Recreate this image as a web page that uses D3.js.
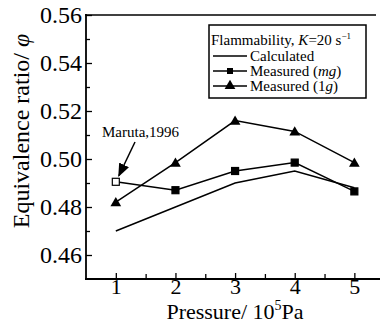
<!DOCTYPE html>
<html>
<head>
<meta charset="utf-8">
<script src="https://cdn.jsdelivr.net/npm/d3@7"></script>
<style>
  body { margin: 0; background: #fff; }
  svg text { font-family: "Liberation Serif", "DejaVu Serif", serif; fill: #000; }
</style>
</head>
<body>
<div id="chart"></div>
<script>
// data
var pressures = [1, 2, 3, 4, 5];
var calculated = [0.470, 0.480, 0.490, 0.495, 0.488];
var measuredMg = [0.4905, 0.487, 0.495, 0.4985, 0.4865];
var measured1g = [0.482, 0.4985, 0.516, 0.5115, 0.4985];
var yTicks = [0.46, 0.48, 0.50, 0.52, 0.54, 0.56];
var xTicks = [1, 2, 3, 4, 5];

var width = 382, height = 325;
var svg = d3.select("#chart").append("svg")
    .attr("width", width)
    .attr("height", height);

var xScale = d3.scaleLinear().domain([0.5, 5.43]).range([86, 380]);
var yScale = d3.scaleLinear().domain([0.45, 0.56]).range([279, 15]);

/* axes */
var yAxis = d3.axisLeft(yScale).tickValues(yTicks).tickSize(-6)
    .tickPadding(4).tickFormat(d3.format(".2f"));
var gy = svg.append("g").attr("transform", "translate(86,0)").call(yAxis);
gy.select(".domain").remove();
gy.selectAll("text").style("font-size", "24px");

var yMinor = d3.axisLeft(yScale).tickValues([0.47, 0.49, 0.51, 0.53, 0.55]).tickSize(-4).tickFormat("");
var gym = svg.append("g").attr("transform", "translate(86,0)").call(yMinor);
gym.select(".domain").remove();

var xAxis = d3.axisBottom(xScale).tickValues(xTicks).tickSize(-6)
    .tickPadding(-1).tickFormat(d3.format("d"));
var gx = svg.append("g").attr("transform", "translate(0,279)").call(xAxis);
gx.select(".domain").remove();
gx.selectAll("text").style("font-size", "22px");

var xMinor = d3.axisBottom(xScale).tickValues([1.5, 2.5, 3.5, 4.5]).tickSize(-5).tickFormat("");
var gxm = svg.append("g").attr("transform", "translate(0,279)").call(xMinor);
gxm.select(".domain").remove();

svg.selectAll(".tick line").attr("stroke", "#000").attr("stroke-width", 1.3);

// spines (no right one)
svg.append("line").attr("x1", 86).attr("x2", 86).attr("y1", 14).attr("y2", 280)
    .attr("stroke", "#000").attr("stroke-width", 1.8);
svg.append("line").attr("x1", 85).attr("x2", 380).attr("y1", 279).attr("y2", 279)
    .attr("stroke", "#000").attr("stroke-width", 1.8);
svg.append("line").attr("x1", 85).attr("x2", 376).attr("y1", 15).attr("y2", 15)
    .attr("stroke", "#000").attr("stroke-width", 1.6);

/* axis titles */
var yt = svg.append("text")
    .attr("transform", "translate(29,131) rotate(-90)")
    .attr("text-anchor", "middle")
    .style("font-size", "24px");
yt.append("tspan").text("Equivalence ratio/ ");
yt.append("tspan").style("font-style", "italic").text("\u03c6");

var xt = svg.append("text")
    .attr("x", 235).attr("y", 319)
    .attr("text-anchor", "middle")
    .style("font-size", "22px");
xt.append("tspan").text("Pressure/ 10");
xt.append("tspan").attr("dy", -9).style("font-size", "14px").text("5");
xt.append("tspan").attr("dy", 9).text("Pa");

/* series */
var line = d3.line()
    .x(function(d, i) { return xScale(pressures[i]); })
    .y(function(d) { return yScale(d); });

[calculated, measuredMg, measured1g].forEach(function(s) {
    svg.append("path").datum(s)
        .attr("d", line)
        .attr("fill", "none")
        .attr("stroke", "#000")
        .attr("stroke-width", 1.5);
});

var sq = 7;
svg.selectAll(".sq")
    .data(measuredMg)
    .join("rect")
    .attr("class", "sq")
    .attr("x", function(d, i) { return xScale(pressures[i]) - sq / 2; })
    .attr("y", function(d) { return yScale(d) - sq / 2; })
    .attr("width", sq).attr("height", sq)
    .attr("fill", function(d, i) { return i === 0 ? "#fff" : "#000"; })
    .attr("stroke", "#000")
    .attr("stroke-width", 1.2);

var tri = d3.symbol().type(d3.symbolTriangle).size(50);
svg.selectAll(".tri")
    .data(measured1g)
    .join("path")
    .attr("class", "tri")
    .attr("d", tri)
    .attr("transform", function(d, i) {
        return "translate(" + xScale(pressures[i]) + "," + (yScale(d) + 1) + ")";
    })
    .attr("fill", "#000");

/* Maruta annotation */
svg.append("text")
    .attr("x", 102).attr("y", 137)
    .style("font-size", "15px")
    .text("Maruta,1996");

svg.append("defs").append("marker")
    .attr("id", "arrow")
    .attr("viewBox", "0 0 10 10")
    .attr("refX", 9).attr("refY", 5)
    .attr("markerWidth", 9).attr("markerHeight", 9)
    .attr("orient", "auto")
    .append("path")
    .attr("d", "M0,1 L10,5 L0,9 Z")
    .attr("fill", "#000");

svg.append("line")
    .attr("x1", 135).attr("y1", 142)
    .attr("x2", xScale(1) + 3).attr("y2", yScale(measuredMg[0]) - 6)
    .attr("stroke", "#000").attr("stroke-width", 1.5)
    .attr("marker-end", "url(#arrow)");

/* legend */
var lg = svg.append("g");
lg.append("rect")
    .attr("x", 209).attr("y", 25).attr("width", 157).attr("height", 73)
    .attr("fill", "#fff").attr("stroke", "#000").attr("stroke-width", 1.5);

var lt = lg.append("text").attr("x", 211).attr("y", 45).style("font-size", "15px");
lt.append("tspan").text("Flammability, ");
lt.append("tspan").style("font-style", "italic").text("K");
lt.append("tspan").text("=20 s");
lt.append("tspan").attr("dy", -6).style("font-size", "9px").text("\u22121");

var legendItems = [
    {label: "Calculated", marker: "none", y: 56},
    {label: "Measured (", it: "mg", marker: "square", y: 71},
    {label: "Measured (1", it: "g", marker: "triangle", y: 86}
];
legendItems.forEach(function(d) {
    lg.append("line")
        .attr("x1", 213).attr("x2", 247).attr("y1", d.y).attr("y2", d.y)
        .attr("stroke", "#000").attr("stroke-width", 1.5);
    if (d.marker === "square") {
        lg.append("rect").attr("x", 227).attr("y", d.y - 3).attr("width", 6).attr("height", 6).attr("fill", "#000");
    } else if (d.marker === "triangle") {
        lg.append("path").attr("d", tri).attr("transform", "translate(230," + (d.y) + ")").attr("fill", "#000");
    }
    var t = lg.append("text").attr("x", 250).attr("y", d.y + 5).style("font-size", "15px");
    t.append("tspan").text(d.label);
    if (d.it) {
        t.append("tspan").style("font-style", "italic").text(d.it);
        t.append("tspan").text(")");
    }
});
</script>
</body>
</html>
